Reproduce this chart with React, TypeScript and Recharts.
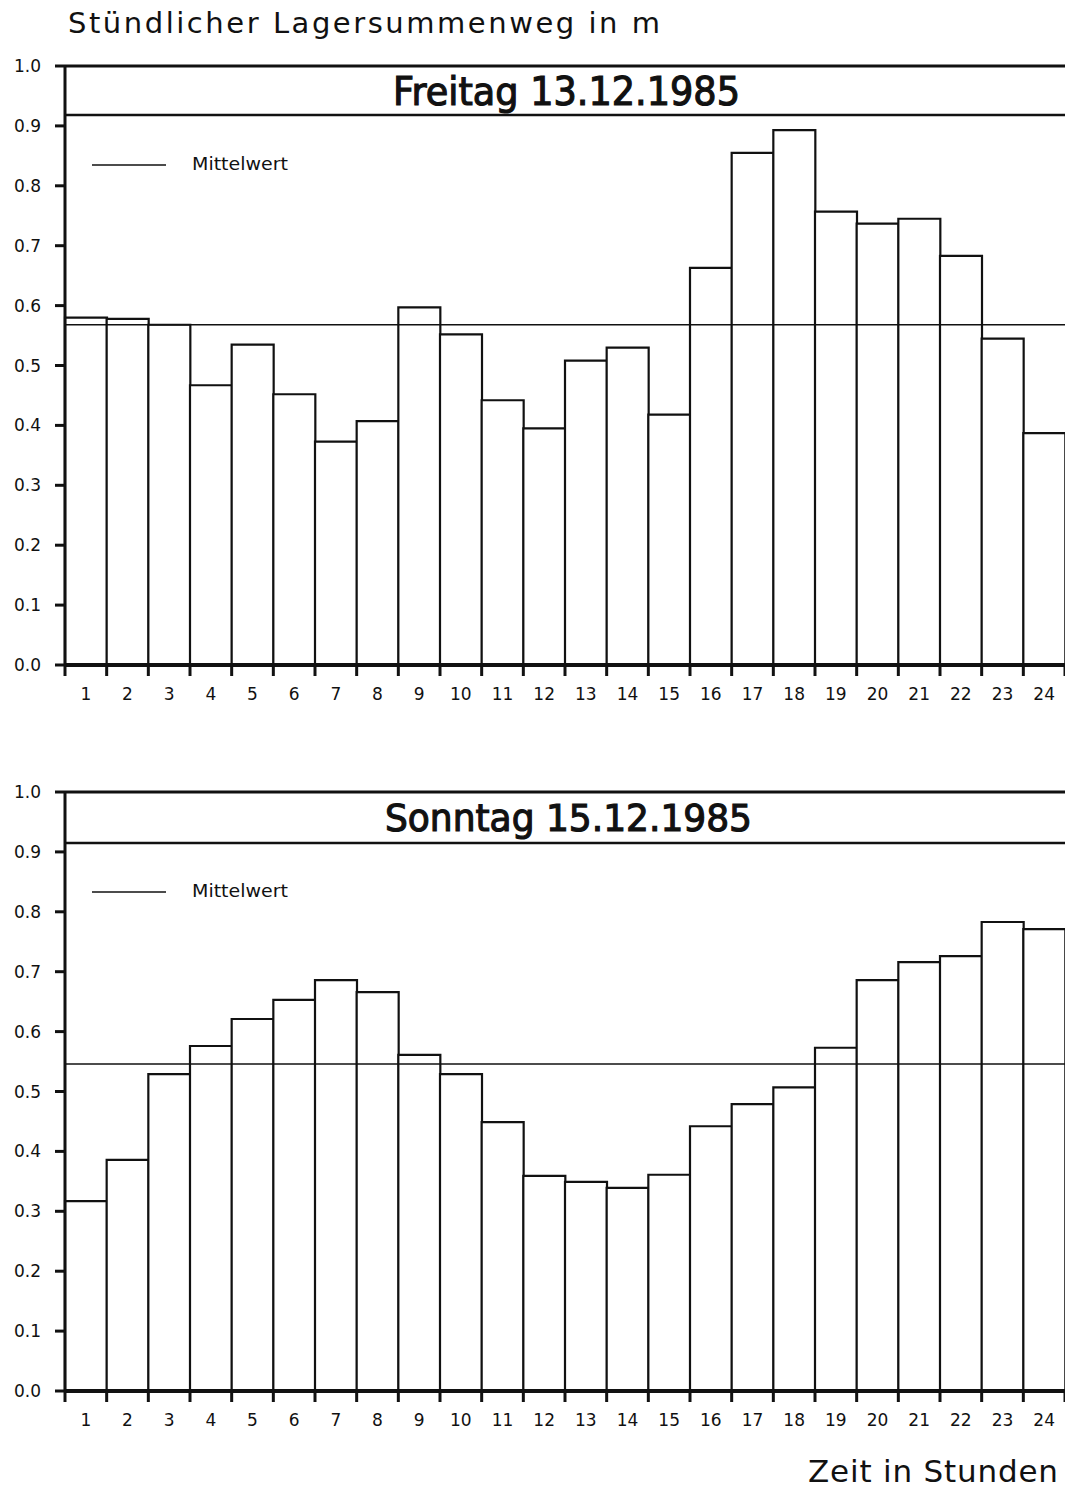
import React from 'react';
import { BarChart, Bar, XAxis, YAxis, ReferenceLine } from 'recharts';

const hours = ['1','2','3','4','5','6','7','8','9','10','11','12','13','14','15','16','17','18','19','20','21','22','23','24'];
const yTicks = [0, 0.1, 0.2, 0.3, 0.4, 0.5, 0.6, 0.7, 0.8, 0.9, 1.0];

const fridayValues = [0.58, 0.578, 0.568, 0.467, 0.535, 0.452, 0.373, 0.407, 0.597, 0.552, 0.442, 0.395, 0.508, 0.53, 0.418, 0.663, 0.855, 0.893, 0.757, 0.737, 0.745, 0.683, 0.545, 0.387];
const sundayValues = [0.317, 0.386, 0.529, 0.576, 0.621, 0.653, 0.686, 0.666, 0.561, 0.529, 0.449, 0.359, 0.349, 0.339, 0.361, 0.442, 0.479, 0.507, 0.573, 0.686, 0.716, 0.726, 0.783, 0.771];
const fridayMean = 0.568;
const sundayMean = 0.546;
const fridayTitleLine = 0.918;
const sundayTitleLine = 0.915;

const fridayTitle = 'Freitag 13.12.1985';
const sundayTitle = 'Sonntag 15.12.1985';
const legendLabel = 'Mittelwert';
const yAxisTitle = 'Stündlicher Lagersummenweg in m';
const xAxisTitle = 'Zeit in Stunden';

const FONT = '"DejaVu Sans", sans-serif';

const fridayData = hours.map((h, i) => ({ hour: h, value: fridayValues[i] }));
const sundayData = hours.map((h, i) => ({ hour: h, value: sundayValues[i] }));

const BW = 1000 / 24;

const XTick = (props: any) => {
  const { x, y, payload, index } = props;
  return (
    <g>
      <line x1={x - BW / 2} x2={x - BW / 2} y1={y} y2={y + 11} stroke="#111" strokeWidth={3} />
      {index === 23 && (
        <line x1={x + BW / 2} x2={x + BW / 2} y1={y} y2={y + 11} stroke="#111" strokeWidth={3} />
      )}
      <text x={x} y={y + 35} textAnchor="middle" fontFamily={FONT} fontSize={17} fill="#111">
        {payload.value}
      </text>
    </g>
  );
};

const YTick = (props: any) => {
  const { y, payload } = props;
  return (
    <text x={41} y={y + 6} textAnchor="end" fontFamily={FONT} fontSize={17} fill="#111">
      {Number(payload.value).toFixed(1)}
    </text>
  );
};

const Panel = ({ data, mean, titleLine }: { data: any[]; mean: number; titleLine: number }) => (
  <BarChart
    width={1065}
    height={720}
    data={data}
    margin={{ top: 66, right: 0, bottom: 5, left: 5 }}
    barCategoryGap={0}
    barGap={0}
  >
    <XAxis
      dataKey="hour"
      interval={0}
      height={50}
      tickSize={0}
      tickMargin={0}
      tickLine={false}
      axisLine={{ stroke: '#111', strokeWidth: 4 }}
      tick={<XTick />}
    />
    <YAxis
      type="number"
      domain={[0, 1]}
      ticks={yTicks}
      width={60}
      tickSize={10}
      tickMargin={0}
      axisLine={{ stroke: '#111', strokeWidth: 3 }}
      tickLine={{ stroke: '#111', strokeWidth: 3 }}
      tick={<YTick />}
    />
    <Bar dataKey="value" fill="#fff" stroke="#111" strokeWidth={2.2} isAnimationActive={false} />
    <ReferenceLine y={mean} stroke="#111" strokeWidth={1.5} />
    <ReferenceLine y={titleLine} stroke="#111" strokeWidth={2.5} />
    <ReferenceLine y={1} stroke="#111" strokeWidth={3} />
  </BarChart>
);

export default function App() {
  return (
    <div style={{ position: 'absolute', left: 0, top: 0, width: 1065, height: 1490, background: '#fff', overflow: 'hidden' }}>
      <div style={{ position: 'absolute', left: 0, top: 0 }}>
        <Panel data={fridayData} mean={fridayMean} titleLine={fridayTitleLine} />
      </div>
      <div style={{ position: 'absolute', left: 0, top: 726 }}>
        <Panel data={sundayData} mean={sundayMean} titleLine={sundayTitleLine} />
      </div>
      <svg width={1065} height={1490} style={{ position: 'absolute', left: 0, top: 0, pointerEvents: 'none' }}>
        <text x={68} y={33} fontFamily={FONT} fontSize={29} fill="#111" textLength={592} lengthAdjust="spacing">
          {yAxisTitle}
        </text>
        <text x={393} y={105} fontFamily={FONT} fontSize={39} fill="#111" stroke="#111" strokeWidth={1.2} textLength={347} lengthAdjust="spacingAndGlyphs">
          {fridayTitle}
        </text>
        <text x={385} y={831} fontFamily={FONT} fontSize={38} fill="#111" stroke="#111" strokeWidth={1.2} textLength={367} lengthAdjust="spacingAndGlyphs">
          {sundayTitle}
        </text>
        <line x1={92} x2={166} y1={165} y2={165} stroke="#111" strokeWidth={1.5} />
        <text x={192} y={170} fontFamily={FONT} fontSize={18} fill="#111" textLength={96} lengthAdjust="spacingAndGlyphs">
          {legendLabel}
        </text>
        <line x1={92} x2={166} y1={892} y2={892} stroke="#111" strokeWidth={1.5} />
        <text x={192} y={897} fontFamily={FONT} fontSize={18} fill="#111" textLength={96} lengthAdjust="spacingAndGlyphs">
          {legendLabel}
        </text>
        <text x={808} y={1482} fontFamily={FONT} fontSize={31} fill="#111" textLength={250} lengthAdjust="spacing">
          {xAxisTitle}
        </text>
      </svg>
    </div>
  );
}
